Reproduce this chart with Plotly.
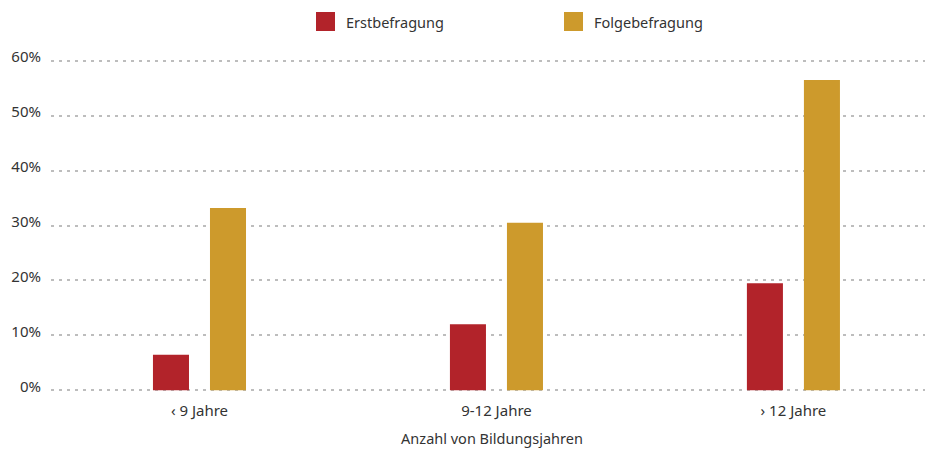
import plotly.graph_objects as go

categories = ["‹ 9 Jahre", "9-12 Jahre", "› 12 Jahre"]
erst = [0.065, 0.1205, 0.195]
folge = [0.332, 0.305, 0.565]
series_names = ["Erstbefragung", "Folgebefragung"]
series_colors = ["#B2232A", "#CD9A2C"]
y_ticks = [0, 0.1, 0.2, 0.3, 0.4, 0.5, 0.6]
y_tick_labels = ["0%", "10%", "20%", "30%", "40%", "50%", "60%"]

FONT = "Noto Sans"
TXT = "#333333"
W, H = 925, 441
ML, MR, MT, MB = 43, 0, 51, 57
PW, PH = W - ML - MR, H - MT - MB


def px_x(x):
    return (x - ML) / PW


def px_y(y):
    return (H - MB - y) / PH


fig = go.Figure()
for name, vals, col in zip(series_names, [erst, folge], series_colors):
    fig.add_trace(go.Bar(name=name, x=categories, y=vals, showlegend=False,
                         marker=dict(color=col, line=dict(width=0))))

# legend drawn as squares + labels
legend_sq_x = [308, 556]
for name, col, sx in zip(series_names, series_colors, legend_sq_x):
    fig.add_shape(type="rect", xref="paper", yref="paper",
                  x0=px_x(sx), x1=px_x(sx + 19), y0=px_y(23), y1=px_y(4),
                  fillcolor=col, line=dict(width=0))
    fig.add_annotation(text=name, xref="paper", yref="paper",
                       x=px_x(sx + 28), y=px_y(13.5), xanchor="left", yanchor="middle",
                       showarrow=False, font=dict(family=FONT, size=14.5, color=TXT))

fig.update_layout(
    width=W, height=H,
    margin=dict(l=ML, r=MR, t=MT, b=MB, autoexpand=False),
    paper_bgcolor="white", plot_bgcolor="white",
    font=dict(family=FONT, size=14, color=TXT),
    barmode="group", bargap=0.616, bargroupgap=0.368,
    showlegend=False,
)
fig.update_xaxes(range=[-0.5, 2.47], showgrid=False, zeroline=False, showline=False,
                 ticks="", ticklabelstandoff=8,
                 tickfont=dict(family=FONT, size=15, color=TXT),
                 title=dict(text="Anzahl von Bildungsjahren", standoff=14,
                            font=dict(family=FONT, size=14.5, color=TXT)))
fig.update_yaxes(range=[-0.003, 0.603], tickvals=y_ticks, ticktext=y_tick_labels,
                 showgrid=True, gridcolor="#BDBDBD", gridwidth=1.5, griddash="3px,5px",
                 zeroline=False, showline=False, ticks="", ticklabelstandoff=9,
                 ticklabelshift=-4,
                 tickfont=dict(family=FONT, size=15, color=TXT))

fig.write_html("out.html")
